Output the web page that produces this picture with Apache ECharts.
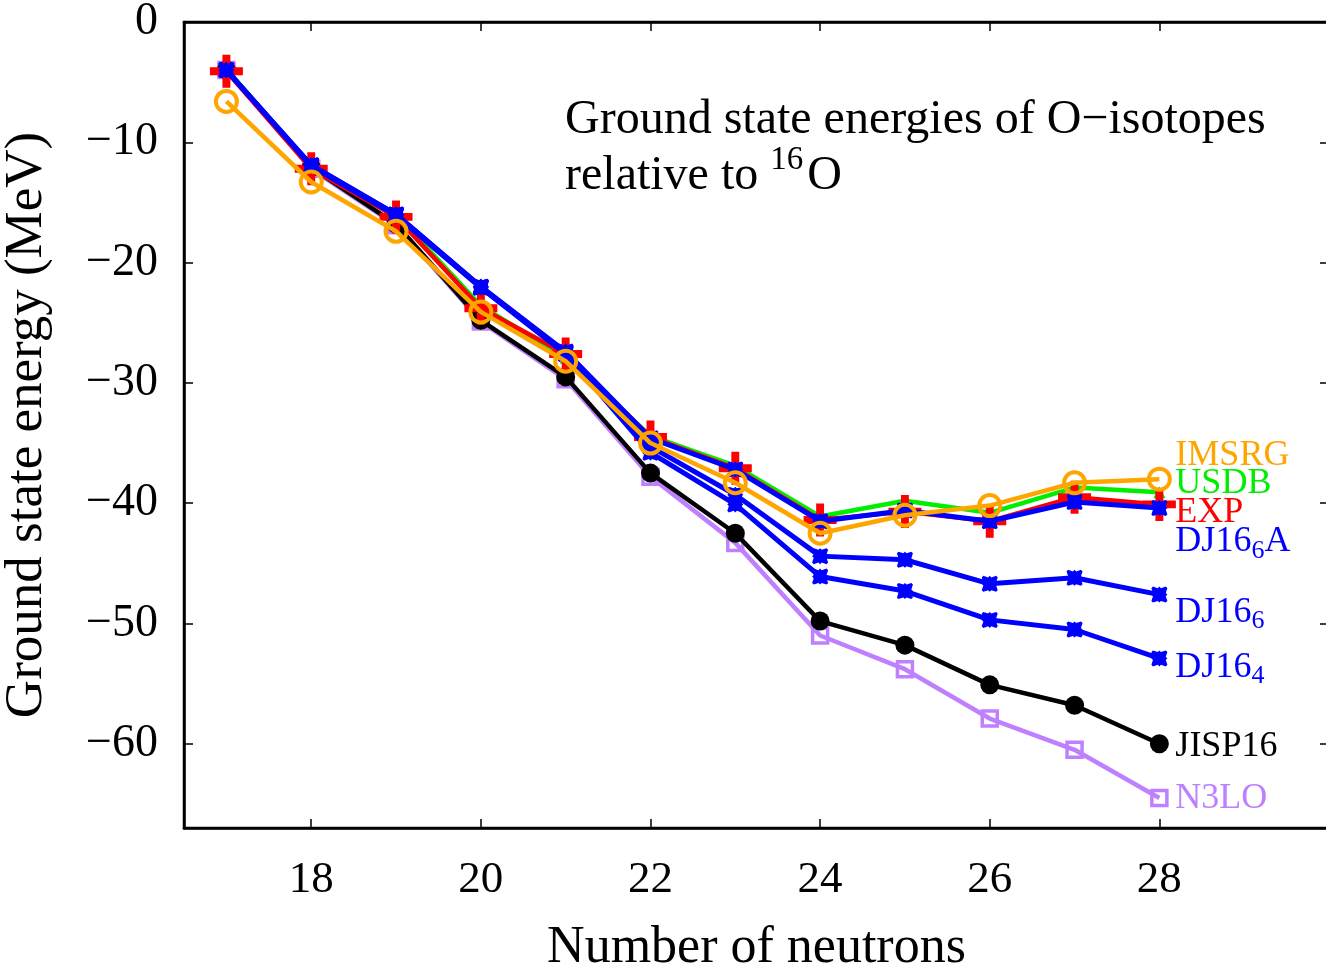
<!DOCTYPE html>
<html>
<head>
<meta charset="utf-8">
<script src="https://cdn.jsdelivr.net/npm/echarts@6/dist/echarts.min.js"></script>
<style>
  html, body { margin: 0; padding: 0; background: #fff; }
  #chart { width: 1326px; height: 973px; }
</style>
</head>
<body>
<div id="chart"></div>
<script>
const neutrons = [17, 18, 19, 20, 21, 22, 23, 24, 25, 26, 27, 28];
const xTicks = [18, 20, 22, 24, 26, 28];
const yTicks = [0, -10, -20, -30, -40, -50, -60];

const EXP    = [-4.1, -12.2, -16.2, -23.8, -27.6, -34.5, -37.1, -41.4, -40.7, -41.5, -39.5, -40.1];
const USDB   = [-3.9, -12.0, -16.0, -23.6, -27.9, -34.4, -36.9, -41.1, -39.8, -40.8, -38.7, -39.1];
const IMSRG  = [-6.6, -13.3, -17.4, -24.1, -28.2, -35.0, -38.3, -42.5, -41.0, -40.2, -38.3, -38.0];
const DJ16_6A = [-4.0, -11.9, -16.0, -22.0, -27.4, -34.6, -37.2, -41.5, -40.6, -41.5, -39.9, -40.4];
const DJ16_6 = [-4.0, -11.9, -16.0, -22.0, -27.5, -35.3, -39.3, -44.4, -44.7, -46.7, -46.2, -47.6];
const DJ16_4 = [-4.0, -12.0, -16.1, -22.1, -27.6, -35.8, -40.1, -46.1, -47.3, -49.7, -50.5, -52.9];
const JISP16 = [-4.0, -12.1, -16.8, -24.8, -29.5, -37.5, -42.5, -49.8, -51.8, -55.1, -56.8, -60.0];
const N3LO   = [-4.0, -12.2, -16.9, -24.9, -29.7, -37.8, -43.3, -51.0, -53.8, -57.9, -60.5, -64.5];

const FONT = "'Liberation Serif', 'DejaVu Serif', serif";
const pair = arr => neutrons.map((n, i) => [n, arr[i]]);
const minus = v => (v < 0 ? '\u2212' + Math.abs(v) : String(v));

const PLUS = 'path://M38,0 H62 V38 H100 V62 H62 V100 H38 V62 H0 V38 H38 Z';
const STAR = 'path://M0,1 L1,0 L4,1 L5,0 L6,1 L9,0 L10,1 L9,4 L10,5 L9,6 L10,9 L9,10 L6,9 L5,10 L4,9 L1,10 L0,9 L1,6 L0,5 L1,4 Z';

function lbl(color, fmt, dy) {
  return {
    show: true,
    formatter: fmt,
    color: color,
    fontFamily: FONT,
    fontSize: 36,
    distance: 16,
    offset: [0, dy],
    rich: {
      a: { color: color, fontFamily: FONT, fontSize: 36, lineHeight: 44, verticalAlign: 'middle' },
      s: { color: color, fontFamily: FONT, fontSize: 26, lineHeight: 44, verticalAlign: 'bottom', padding: [24, 0, 0, 0] }
    }
  };
}

function line(name, data, color, width, symbol, size, itemStyle, label, z) {
  return {
    name: name,
    type: 'line',
    data: pair(data),
    symbol: symbol,
    symbolSize: size,
    showAllSymbol: true,
    lineStyle: { color: color, width: width },
    itemStyle: itemStyle,
    endLabel: label,
    labelLayout: { hideOverlap: false },
    z: z,
    animation: false
  };
}

const chart = echarts.init(document.getElementById('chart'), null, { renderer: 'canvas' });
const axisLine = { show: true, onZero: false, lineStyle: { color: '#000', width: 2.5 } };
const tickStyle = { color: '#000', width: 1.5 };

chart.setOption({
  backgroundColor: '#fff',
  animation: false,
  grid: { left: 184, top: 22, right: -3, bottom: 145, show: true, borderColor: '#000', borderWidth: 2.5, containLabel: false, outerBoundsMode: 'none' },
  xAxis: [{
    type: 'value', min: 16.5, max: 30, position: 'bottom',
    name: 'Number of neutrons', nameLocation: 'middle', nameGap: 94,
    nameTextStyle: { fontFamily: FONT, fontSize: 52, color: '#000' },
    axisLine: axisLine,
    axisTick: { show: true, inside: true, length: 9, customValues: xTicks, lineStyle: tickStyle },
    axisLabel: { customValues: xTicks, fontFamily: FONT, fontSize: 45, color: '#000', margin: 30 },
    splitLine: { show: false }
  }, {
    type: 'value', min: 16.5, max: 30, position: 'top',
    axisLine: axisLine,
    axisTick: { show: true, inside: true, length: 9, customValues: xTicks, lineStyle: tickStyle },
    axisLabel: { show: false },
    splitLine: { show: false }
  }],
  yAxis: [{
    type: 'value', min: -67, max: 0, position: 'left',
    name: 'Ground state energy (MeV)', nameLocation: 'middle', nameGap: 130,
    nameTextStyle: { fontFamily: FONT, fontSize: 53, color: '#000' },
    axisLine: axisLine,
    axisTick: { show: true, inside: true, length: 9, customValues: yTicks, lineStyle: tickStyle },
    axisLabel: { customValues: yTicks, formatter: minus, fontFamily: FONT, fontSize: 46, color: '#000', margin: 26 },
    splitLine: { show: false }
  }, {
    type: 'value', min: -67, max: 0, position: 'right',
    axisLine: axisLine,
    axisTick: { show: true, inside: true, length: 9, customValues: yTicks, lineStyle: tickStyle },
    axisLabel: { show: false },
    splitLine: { show: false }
  }],
  graphic: [{
    type: 'text', left: 565, top: 96,
    style: {
      text: '{n|Ground state energies of O\u2212isotopes}\n{n|relative to }{sup|16}{n|O}',
      fontFamily: FONT, fontSize: 48, fill: '#000',
      rich: {
        n: { fontFamily: FONT, fontSize: 48, lineHeight: 56, fill: '#000', verticalAlign: 'bottom' },
        sup: { fontFamily: FONT, fontSize: 33, lineHeight: 56, fill: '#000', verticalAlign: 'top', padding: [0, 4, 16, 0] }
      }
    }
  }],
  series: [
    line('N3LO', N3LO, '#bf80ff', 4.5, 'rect', 15,
      { color: 'rgba(0,0,0,0)', borderColor: '#bf80ff', borderWidth: 3.5 },
      lbl('#bf80ff', '{a|N3LO}', 1), 2),
    line('JISP16', JISP16, '#000000', 4.5, 'circle', 19,
      { color: '#000000' },
      lbl('#000000', '{a|JISP16}', 3), 3),
    line('USDB', USDB, '#00ee00', 4.5, 'triangle', 12,
      { color: '#00ee00' },
      lbl('#00ee00', '{a|USDB}', -9), 4),
    line('EXP', EXP, '#ff0000', 4.5, PLUS, 33,
      { color: '#ff0000' },
      lbl('#ff0000', '{a|EXP}', 8), 5),
    line('DJ16_4', DJ16_4, '#0000ff', 5, STAR, 16,
      { color: '#0000ff' },
      lbl('#0000ff', '{a|DJ16}{s|4}', 9), 6),
    line('DJ16_6', DJ16_6, '#0000ff', 5, STAR, 16,
      { color: '#0000ff' },
      lbl('#0000ff', '{a|DJ16}{s|6}', 18), 7),
    line('DJ16_6A', DJ16_6A, '#0000ff', 5, STAR, 16,
      { color: '#0000ff' },
      lbl('#0000ff', '{a|DJ16}{s|6}{a|A}', 34), 8),
    line('IMSRG', IMSRG, '#ffa500', 4.5, 'circle', 21,
      { color: 'rgba(0,0,0,0)', borderColor: '#ffa500', borderWidth: 4 },
      lbl('#ffa500', '{a|IMSRG}', -24), 9)
  ]
});
</script>
</body>
</html>
